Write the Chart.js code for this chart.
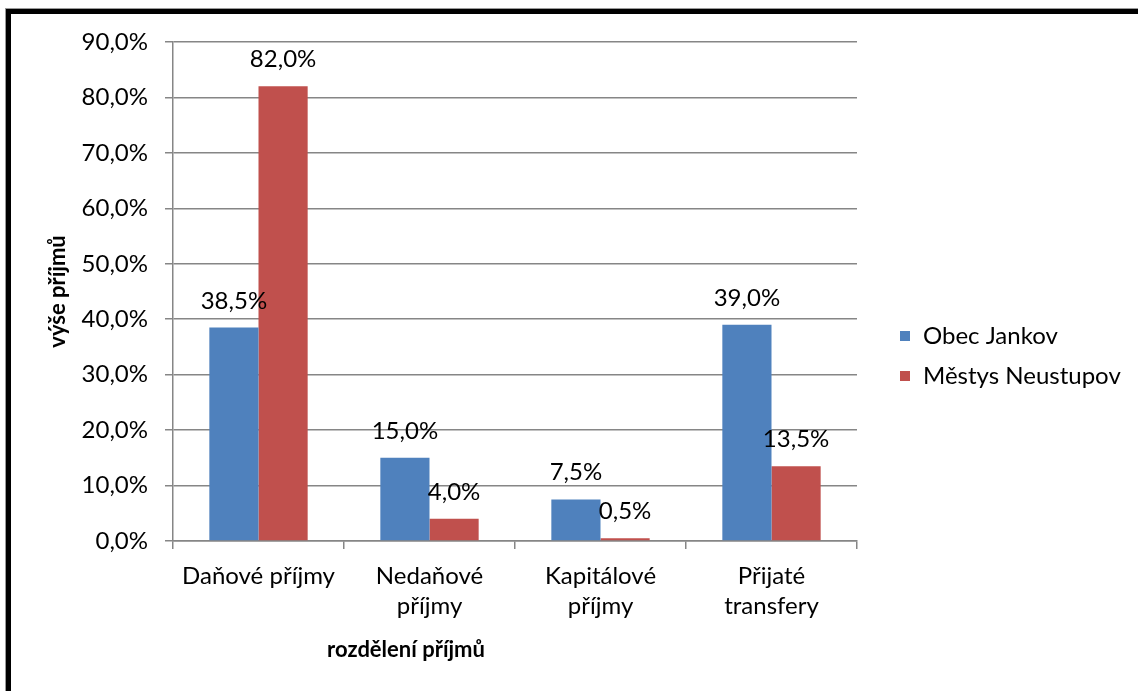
<!DOCTYPE html>
<html>
<head>
<meta charset="utf-8">
<script src="https://cdn.jsdelivr.net/npm/chart.js"></script>
<style>
    html, body { margin: 0; padding: 0; background: #fff; overflow: hidden; }
    #wrap { position: relative; width: 1138px; height: 691px; }
    #frame {
        position: absolute; left: 6px; top: 9px; right: -10px; bottom: -10px;
        border-top: 5px solid #000; border-left: 5px solid #000;
        box-shadow: -1px -1px 0 #9a9a9a;
        pointer-events: none;
    }
    canvas { position: absolute; left: 0; top: 0; }
</style>
</head>
<body>
<div id="wrap">
    <canvas id="chart" width="1138" height="691"></canvas>
    <div id="frame"></div>
</div>
<script>
// Chart data
const categories = ['Daňové příjmy', ['Nedaňové', 'příjmy'], ['Kapitálové', 'příjmy'], ['Přijaté', 'transfery']];
const seriesNames = ['Obec Jankov', 'Městys Neustupov'];
const jankovValues = [38.5, 15.0, 7.5, 39.0];
const neustupovValues = [82.0, 4.0, 0.5, 13.5];
const yTicks = [0, 10, 20, 30, 40, 50, 60, 70, 80, 90];
const xTitle = 'rozdělení příjmů';
const yTitle = 'výše příjmů';

const FONT = 'Lato';
const GRID = '#868686';

function pct(v) {
    return v.toFixed(1).replace('.', ',') + '%';
}

// Labels, axis titles and legend drawn on top
const extras = {
    id: 'extras',
    afterDatasetsDraw(chart) {
        const ctx = chart.ctx;
        ctx.save();
        ctx.fillStyle = '#000';
        ctx.font = '24px ' + FONT;
        ctx.textAlign = 'center';
        ctx.textBaseline = 'alphabetic';
        chart.data.datasets.forEach((ds, i) => {
            chart.getDatasetMeta(i).data.forEach((bar, j) => {
                ctx.fillText(pct(ds.data[j]), bar.x, bar.y - 19);
            });
        });

        const area = chart.chartArea;
        ctx.font = 'bold 22px ' + FONT;
        ctx.textBaseline = 'middle';
        ctx.fillText(xTitle, 406, 650);
        ctx.save();
        ctx.translate(58, (area.top + area.bottom) / 2);
        ctx.rotate(-Math.PI / 2);
        ctx.fillText(yTitle, 0, 0);
        ctx.restore();

        // legend
        ctx.font = '24px ' + FONT;
        ctx.textAlign = 'left';
        chart.data.datasets.forEach((ds, i) => {
            const y = 336 + i * 40;
            ctx.fillStyle = ds.backgroundColor;
            ctx.fillRect(900, y - 5, 10, 10);
            ctx.fillStyle = '#000';
            ctx.fillText(ds.label, 923, y);
        });
        ctx.restore();
    }
};

new Chart(document.getElementById('chart').getContext('2d'), {
    type: 'bar',
    data: {
        labels: categories,
        datasets: [
            { label: seriesNames[0], data: jankovValues, backgroundColor: '#4F81BD' },
            { label: seriesNames[1], data: neustupovValues, backgroundColor: '#C0504D' }
        ]
    },
    options: {
        responsive: false,
        animation: false,
        layout: { padding: { left: 0, right: 281, top: 42, bottom: 0 } },
        datasets: { bar: { categoryPercentage: 0.575, barPercentage: 1.0 } },
        plugins: {
            legend: { display: false },
            tooltip: { enabled: false }
        },
        scales: {
            x: {
                grid: {
                    display: true, drawOnChartArea: false, drawTicks: true,
                    tickLength: 8, color: GRID, lineWidth: 1.5, offset: true
                },
                border: { color: GRID, width: 1.5 },
                ticks: {
                    color: '#000', padding: 12, maxRotation: 0, autoSkip: false,
                    font: { family: FONT, size: 24, lineHeight: 1.25 }
                },
                afterFit(scale) { scale.height = 150; }
            },
            y: {
                min: 0, max: 90,
                afterBuildTicks(scale) { scale.ticks = yTicks.map(v => ({ value: v })); },
                grid: { color: GRID, lineWidth: 1.5, tickLength: 8 },
                border: { color: GRID, width: 1.5 },
                ticks: {
                    color: '#000', padding: 17,
                    font: { family: FONT, size: 24 },
                    callback: v => pct(v)
                },
                afterFit(scale) { scale.width = 173; }
            }
        }
    },
    plugins: [extras]
});
</script>
</body>
</html>
